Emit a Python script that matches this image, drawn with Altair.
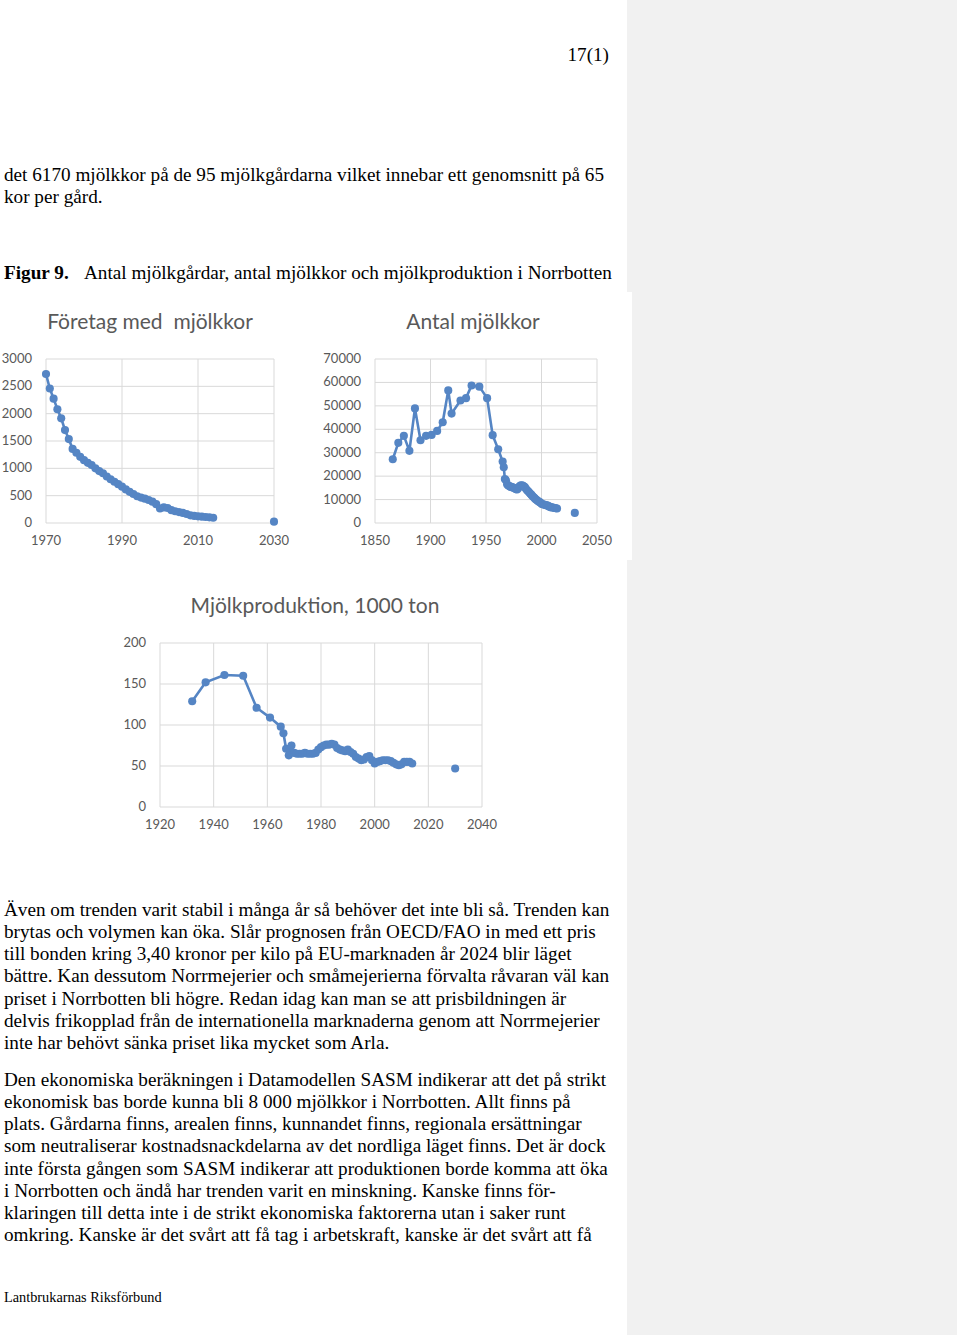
import altair as alt
import pandas as pd

# ---------------- data ----------------
# Företag med mjölkkor (number of dairy farms)
farm_years = [1970, 1971, 1972, 1973, 1974, 1975, 1976, 1977, 1978, 1979,
              1980, 1981, 1982, 1983, 1984, 1985, 1986, 1987, 1988, 1989,
              1990, 1991, 1992, 1993, 1994, 1995, 1996, 1997, 1998, 1999,
              2000, 2001, 2002, 2003, 2004, 2005, 2006, 2007, 2008, 2009,
              2010, 2011, 2012, 2013, 2014]
farm_counts = [2725, 2460, 2275, 2080, 1915, 1700, 1535, 1355, 1285, 1210,
               1150, 1100, 1060, 1000, 950, 910, 850, 800, 755, 710,
               665, 615, 570, 530, 490, 465, 445, 420, 390, 345,
               265, 285, 275, 235, 215, 200, 185, 165, 140, 130,
               122, 116, 110, 104, 95]
farm_proj_years = [2030]
farm_proj = [25]

# Antal mjölkkor (number of dairy cows)
cow_years = [1866, 1871, 1876, 1881, 1886, 1891, 1896, 1901, 1906, 1911,
             1916, 1919, 1927, 1932, 1937, 1944, 1951, 1956, 1961, 1965,
             1966, 1967, 1968, 1969, 1970, 1971, 1972, 1973, 1974, 1975,
             1976, 1977, 1978, 1979, 1980, 1981, 1982, 1983, 1984, 1985,
             1986, 1987, 1988, 1989, 1990, 1991, 1992, 1993, 1994, 1995,
             1996, 1997, 1998, 1999, 2000, 2001, 2002, 2003, 2004, 2005,
             2006, 2007, 2008, 2009, 2010, 2011, 2012, 2013, 2014]
cow_counts = [27200, 34200, 37200, 30800, 48900, 35300, 37200, 37600, 39300, 43000,
              56600, 46700, 52300, 53300, 58700, 58200, 53300, 37500, 31500, 26200,
              23800, 18800, 18200, 16500, 16000, 15800, 15500, 15300, 15200, 15000,
              14800, 14400, 14300, 14800, 15600, 16000, 16100, 16000, 15700, 15300,
              14600, 14000, 13500, 13000, 12500, 12000, 11400, 11000, 10500, 10000,
              9700, 9300, 9000, 8700, 8200, 8000, 7900, 7800, 7600, 7500,
              7300, 7000, 6800, 6700, 6600, 6500, 6400, 6300, 6170]
cow_proj_years = [2030]
cow_proj = [4300]

# Mjölkproduktion, 1000 ton
milk_years = [1932, 1937, 1944, 1951, 1956, 1961, 1965, 1966, 1967, 1968,
              1969, 1970, 1971, 1972, 1973, 1974, 1975, 1976, 1977, 1978,
              1979, 1980, 1981, 1982, 1983, 1984, 1985, 1986, 1987, 1988,
              1989, 1990, 1991, 1992, 1993, 1994, 1995, 1996, 1997, 1998,
              1999, 2000, 2001, 2002, 2003, 2004, 2005, 2006, 2007, 2008,
              2009, 2010, 2011, 2012, 2013, 2014]
milk_kton = [129, 152, 161, 160, 121, 109, 98, 90, 71, 63,
             75, 66, 65, 65, 65, 66, 65, 65, 65, 66,
             70, 73, 75, 76, 76, 77, 76, 72, 70, 69,
             68, 70, 67, 65, 61, 59, 57, 58, 61, 62,
             57, 53, 55, 56, 57, 57, 57, 56, 54, 52,
             51, 52, 55, 55, 55, 53]
milk_proj_years = [2030]
milk_proj = [47]

# tick values / labels
a_xticks = [1970, 1990, 2010, 2030]
a_yticks = [0, 500, 1000, 1500, 2000, 2500, 3000]
b_xticks = [1850, 1900, 1950, 2000, 2050]
b_yticks = [0, 10000, 20000, 30000, 40000, 50000, 60000, 70000]
c_xticks = [1920, 1940, 1960, 1980, 2000, 2020, 2040]
c_yticks = [0, 50, 100, 150, 200]

# page text
page_no = "17(1)"
intro_lines = ["det 6170 mjölkkor på de 95 mjölkgårdarna vilket innebar ett genomsnitt på 65",
               "kor per gård."]
fig_label = "Figur 9."
fig_caption = "Antal mjölkgårdar, antal mjölkkor och mjölkproduktion i Norrbotten"
title_a = "Företag med\u00a0 mjölkkor"
title_b = "Antal mjölkkor"
title_c = "Mjölkproduktion, 1000 ton"
para1 = ["Även om trenden varit stabil i många år så behöver det inte bli så. Trenden kan",
         "brytas och volymen kan öka. Slår prognosen från OECD/FAO in med ett pris",
         "till bonden kring 3,40 kronor per kilo på EU-marknaden år 2024 blir läget",
         "bättre. Kan dessutom Norrmejerier och småmejerierna förvalta råvaran väl kan",
         "priset i Norrbotten bli högre. Redan idag kan man se att prisbildningen är",
         "delvis frikopplad från de internationella marknaderna genom att Norrmejerier",
         "inte har behövt sänka priset lika mycket som Arla."]
para2 = ["Den ekonomiska beräkningen i Datamodellen SASM indikerar att det på strikt",
         "ekonomisk bas borde kunna bli 8 000 mjölkkor i Norrbotten. Allt finns på",
         "plats. Gårdarna finns, arealen finns, kunnandet finns, regionala ersättningar",
         "som neutraliserar kostnadsnackdelarna av det nordliga läget finns. Det är dock",
         "inte första gången som SASM indikerar att produktionen borde komma att öka",
         "i Norrbotten och ändå har trenden varit en minskning. Kanske finns för-",
         "klaringen till detta inte i de strikt ekonomiska faktorerna utan i saker runt",
         "omkring. Kanske är det svårt att få tag i arbetskraft, kanske är det svårt att få"]
footer = "Lantbrukarnas Riksförbund"

# ---------------- styles ----------------
BLUE = "#5585c4"
GRID = "#d9d9d9"
LABEL = "#595959"
SERIF = "Liberation Serif"
SANS = "Lato"
BODY = 19.2
one = pd.DataFrame({"k": [0]})


def panel(years, vals, pyears, pvals, xticks, yticks, xr, yr):
    xs = alt.Scale(domain=[xticks[0], xticks[-1]], range=xr, nice=False, zero=False)
    ys = alt.Scale(domain=[yticks[0], yticks[-1]], range=yr, nice=False, zero=False)
    hist = pd.DataFrame({"x": years, "y": vals})
    pts = pd.concat([hist, pd.DataFrame({"x": pyears, "y": pvals})], ignore_index=True)
    vg = pd.DataFrame({"t": xticks, "lo": yticks[0], "hi": yticks[-1],
                       "lab": [str(t) for t in xticks]})
    hg = pd.DataFrame({"t": yticks, "lo": xticks[0], "hi": xticks[-1],
                       "lab": [str(t) for t in yticks]})

    def X(f):
        return alt.X(f, type="quantitative", scale=xs, axis=None)

    def Y(f):
        return alt.Y(f, type="quantitative", scale=ys, axis=None)

    return [
        alt.Chart(vg).mark_rule(color=GRID, strokeWidth=1).encode(x=X("t"), y=Y("lo"), y2="hi"),
        alt.Chart(hg).mark_rule(color=GRID, strokeWidth=1).encode(y=Y("t"), x=X("lo"), x2="hi"),
        alt.Chart(vg).mark_text(dy=18, font=SANS, fontSize=13, color=LABEL,
                                align="center", baseline="middle").encode(x=X("t"), y=Y("lo"), text="lab:N"),
        alt.Chart(hg).mark_text(dx=-14, font=SANS, fontSize=13, color=LABEL,
                                align="right", baseline="middle").encode(y=Y("t"), x=X("lo"), text="lab:N"),
        alt.Chart(hist).mark_line(color=BLUE, strokeWidth=2.6).encode(x=X("x"), y=Y("y")),
        alt.Chart(pts).mark_point(filled=True, size=66, color=BLUE, opacity=1).encode(x=X("x"), y=Y("y")),
    ]


def txt(lines, x, y, size=BODY, font=SERIF, weight="normal", align="left", color="black", lh=22.15):
    return alt.Chart(one).mark_text(text=lines, font=font, fontSize=size, fontWeight=weight,
                                    align=align, baseline="alphabetic", color=color,
                                    lineHeight=lh).encode(x=alt.value(x), y=alt.value(y))


def ctitle(s, x, y):
    return alt.Chart(one).mark_text(text=s, font=SANS, fontSize=21, color=LABEL,
                                    align="center", baseline="middle").encode(x=alt.value(x), y=alt.value(y))


layers = []
# grey side strip
layers.append(alt.Chart(one).mark_rect(color="#f1f1f1").encode(
    x=alt.value(627), x2=alt.value(957), y=alt.value(0), y2=alt.value(1335)))
layers.append(alt.Chart(one).mark_rect(color="white").encode(
    x=alt.value(627), x2=alt.value(632), y=alt.value(292), y2=alt.value(560)))

layers += panel(farm_years, farm_counts, farm_proj_years, farm_proj, a_xticks, a_yticks, [46, 274], [523, 359])
layers += panel(cow_years, cow_counts, cow_proj_years, cow_proj, b_xticks, b_yticks, [375, 597], [523, 359])
layers += panel(milk_years, milk_kton, milk_proj_years, milk_proj, c_xticks, c_yticks, [160, 482], [807, 643])

layers.append(ctitle(title_a, 150, 323))
layers.append(ctitle(title_b, 473, 323))
layers.append(ctitle(title_c, 315, 607))

layers.append(txt(page_no, 609, 61, align="right"))
layers.append(txt(intro_lines, 4, 181))
layers.append(txt(fig_label, 4, 279, weight="bold"))
layers.append(txt(fig_caption, 84, 279))
layers.append(txt(para1, 4, 916))
layers.append(txt(para2, 4, 1086))
layers.append(txt(footer, 4, 1302, size=14.3))

chart = alt.layer(*layers).resolve_scale(x="independent", y="independent").properties(
    width=960, height=1338,
    autosize=alt.AutoSizeParams(type="none"),
    padding=0,
    background="white",
).configure_view(stroke=None)

chart.save("out.html", embed_options={"renderer": "svg", "actions": False})
